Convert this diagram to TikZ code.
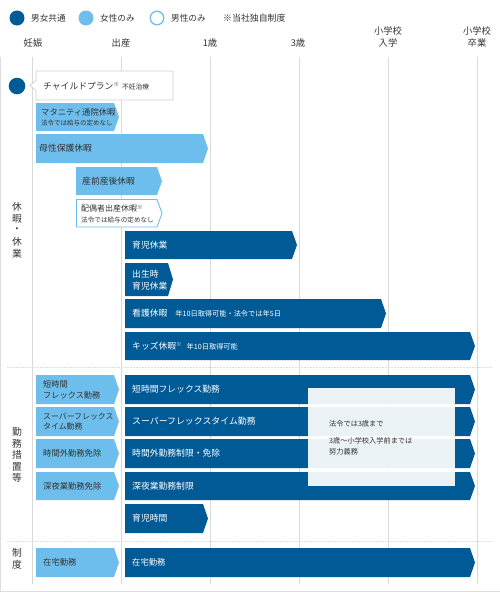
\documentclass[tikz,border=0pt]{standalone}
\usepackage{fontspec}
\setmainfont{Noto Sans CJK JP}
\definecolor{dkb}{HTML}{005A96}
\definecolor{ltb}{HTML}{6DBEEC}
\definecolor{grd}{HTML}{D9D9D9}
\definecolor{sepc}{HTML}{DDDDDD}
\definecolor{txt}{HTML}{333333}
\definecolor{cpb}{HTML}{CFCFCF}
\newcommand\fsz[1]{\fontsize{#1}{#1}\selectfont}
\newcommand\chev[5]{\path[#1] (#2,#3) -- ({#4-5},#3) -- (#4,{(#3+#5)/2}) -- ({#4-5},#5) -- (#2,#5) -- cycle;}
\newcommand\kome{\raisebox{2.5pt}{\fsz{5.5}※}}
\tikzset{
  dk/.style={fill=dkb},
  lt/.style={fill=ltb},
  ol/.style={fill=white,draw=ltb,line width=0.9pt},
  lbl/.style={inner sep=0pt,anchor=west,font=\fsz{8.8}},
  wt/.style={lbl,text=white},
  gt/.style={lbl,text=txt},
  lg/.style={gt,font=\fsz{8.6}},
  hd/.style={inner sep=0pt,text=txt,font=\fsz{9.3}},
  vt/.style={inner sep=0pt,text=txt,font=\fsz{9.8}},
  grid/.style={draw=grd,line width=0.8pt},
  sepl/.style={draw=sepc,line width=0.8pt,dash pattern=on 2pt off 1pt},
}
\begin{document}
\begin{tikzpicture}[x=1pt,y=-1pt]
\useasboundingbox (0,0) rectangle (500,592);
% frame
\draw[draw=sepc,line width=0.8pt] (0.5,57) -- (0.5,591.2) -- (500,591.2);
% legend
\fill[dkb] (17,18) circle (7.5);
\node[lg] (lg1) at (31,18) {男女共通};
\fill[ltb] (86,18) circle (7.5);
\node[lg] (lg2) at (100,18) {女性のみ};
\draw[ol,line width=1.3pt] (157,18) circle (6.8);
\node[lg] (lg3) at (171,18) {男性のみ};
\node[lg,font=\fsz{8.9}] (lg4) at (223,18) {※当社独自制度};
% header
\node[hd] (h0) at (33,43) {妊娠};
\node[hd] (h1) at (121,43) {出産};
\node[hd] (h2) at (210,43) {1歳};
\node[hd] (h3) at (298,43) {3歳};
\node[hd] (h4a) at (388,31) {小学校};
\node[hd] (h4b) at (388,43) {入学};
\node[hd] (h5a) at (477,31) {小学校};
\node[hd] (h5b) at (477,43) {卒業};
% grid
\foreach \x in {32,121,210,299,388,477} \draw[grid] (\x,57) -- (\x,584);
\draw[sepl] (7,367.5) -- (492,367.5);
\draw[sepl] (7,541) -- (492,541);
% section labels
\foreach \c/\yy in {休/207,暇/219,・/230,休/242,業/254} \node[vt] at (17,\yy) {\c};
\foreach \c/\yy in {勤/432,務/443.5,措/455,置/466.5,等/478} \node[vt] at (17,\yy) {\c};
\node[vt] (s3a) at (17,553) {制};
\node[vt] (s3b) at (17,564.5) {度};
% child plan
\fill[dkb] (17,86) circle (8.3);
\path[fill=white,draw=cpb,line width=0.7pt] (36,71) -- (173,71) -- (173,100) -- (36,100) -- (36,90.5) -- (30,85.5) -- (36,80.5) -- cycle;
\node[gt] (cp) at (43,86) {チャイルドプラン\kome\hspace{3pt}{\fsz{6.8}不妊治療}};
% leave bars
\chev{lt}{36}{103}{119}{131}
\node[gt,font=\fsz{8.3}] (mat) at (41,112) {マタニティ通院休暇};
\node[gt,font=\fsz{6.5}] (matn) at (41,123.5) {法令では給与の定めなし};
\chev{lt}{36}{134}{208}{163}
\node[gt] (bosei) at (39,148.5) {母性保護休暇};
\chev{lt}{76}{167}{162}{195}
\node[gt] (sanzen) at (82,181) {産前産後休暇};
\chev{ol}{76.5}{199.5}{162}{227}
\node[gt,font=\fsz{8}] (haig) at (81,208.5) {配偶者出産休暇\kome};
\node[gt,font=\fsz{6.6}] (haign) at (81,219.5) {法令では給与の定めなし};
\chev{dk}{125}{231}{297}{259}
\node[wt] (ikuji) at (132,245) {育児休業};
\chev{dk}{125}{263}{173}{296}
\node[wt] (shus1) at (132,274) {出生時};
\node[wt] (shus2) at (132,286) {育児休業};
\chev{dk}{125}{299}{386}{328}
\node[wt] (kango) at (132,313.5) {看護休暇\hspace{8pt}{\fsz{7.2}年10日取得可能・法令では年5日}};
\chev{dk}{125}{332}{475}{360}
\node[wt] (kids) at (132,346) {キッズ休暇\kome\hspace{5pt}{\fsz{7.2}年10日取得可能}};
% work measures
\chev{lt}{36}{375}{119}{404}
\node[gt,font=\fsz{8.2}] (tj1) at (43,384.5) {短時間};
\node[gt,font=\fsz{8.2}] (tj2) at (43,395) {フレックス勤務};
\chev{dk}{125}{375}{475}{404}
\node[wt] (tjd) at (132,389.5) {短時間フレックス勤務};
\chev{lt}{36}{407}{119}{436}
\node[gt,font=\fsz{7.9}] (sf1) at (43,416.5) {スーパーフレックス};
\node[gt,font=\fsz{7.9}] (sf2) at (43,427) {タイム勤務};
\chev{dk}{125}{407}{475}{436}
\node[wt,font=\fsz{8.9}] (sfd) at (132,421.5) {スーパーフレックスタイム勤務};
\chev{lt}{36}{439}{119}{468}
\node[gt,font=\fsz{8.3}] (jk) at (43,453.5) {時間外勤務免除};
\chev{dk}{125}{439}{475}{468}
\node[wt] (jkd) at (132,453.5) {時間外勤務制限・免除};
\chev{lt}{36}{472}{119}{500}
\node[gt,font=\fsz{8.3}] (sy) at (43,486) {深夜業勤務免除};
\chev{dk}{125}{472}{475}{500}
\node[wt] (syd) at (132,486) {深夜業勤務制限};
\chev{dk}{125}{504}{208}{533}
\node[wt] (ikj) at (132,518.5) {育児時間};
% overlay note
\fill[white,opacity=0.92] (308,388) rectangle (455,486);
\node[gt,font=\fsz{7.2}] (n1) at (329,424) {法令では3歳まで};
\node[gt,font=\fsz{7.2}] (n2) at (329,441) {3歳～小学校入学前までは};
\node[gt,font=\fsz{7.2}] (n3) at (329,452) {努力義務};
% system
\chev{lt}{36}{548}{119}{577}
\node[gt,font=\fsz{8.3}] (zt) at (43,562.5) {在宅勤務};
\chev{dk}{125}{548}{475}{577}
\node[wt,font=\fsz{8.3}] (ztd) at (132,562.5) {在宅勤務};
\end{tikzpicture}
\end{document}
